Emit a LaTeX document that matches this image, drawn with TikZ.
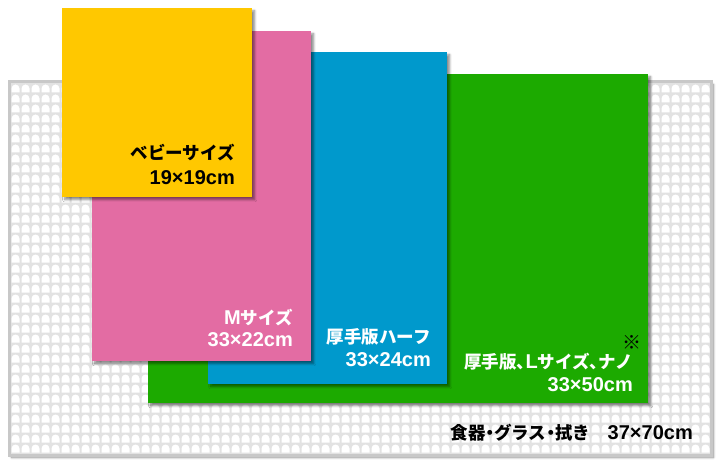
\documentclass[tikz,border=0pt]{standalone}
\usepackage{fontspec}
\setmainfont{Noto Sans CJK JP}
\newfontfamily\latinfont{Liberation Sans}
\newfontfamily\halffont{Noto Sans CJK JP}[RawFeature=+halt]
\usetikzlibrary{shadows.blur}
\definecolor{babyYellow}{RGB}{255,200,0}
\definecolor{mPink}{RGB}{227,108,163}
\definecolor{halfBlue}{RGB}{0,153,204}
\definecolor{largeGreen}{RGB}{28,170,0}
\definecolor{matGray}{RGB}{200,200,200}
\definecolor{cellGray}{RGB}{226,226,226}
\newcommand{\lat}[1]{{\latinfont\bfseries\fontsize{20}{22}\selectfont #1}}

\begin{document}
\begin{tikzpicture}[x=1pt, y=-1pt,
  card/.style={rectangle, fill=#1, draw=none, anchor=north west,
               inner sep=0pt,
               blur shadow={shadow xshift=2.5pt, shadow yshift=-2.5pt,
                            shadow blur steps=6, shadow opacity=45}},
  lbl/.style={anchor=base east, inner sep=0pt, text=#1,
              font=\bfseries\fontsize{17.5}{19}\selectfont}
]
  \useasboundingbox (0,0) rectangle (722,465);

  % waffle mat
  \node[card=cellGray, draw=matGray, line width=3pt,
        minimum width=702pt, minimum height=373pt] (mat) at (7.5,80.5) {};
  \foreach \i in {0,...,69}
    \foreach \j in {0,...,36}
      \fill[white] (11.5+\i*10, 92.5+\j*10)
        [rounded corners=4pt] -- (11.5+\i*10, 84.5+\j*10)
        -- (19.5+\i*10, 84.5+\j*10) [sharp corners] -- (19.5+\i*10, 92.5+\j*10)
        -- cycle;

  % cloths, largest first
  \node[card=largeGreen, minimum width=500pt, minimum height=329pt]
    (large) at (148,74) {};
  \node[card=halfBlue, minimum width=239pt, minimum height=332pt]
    (half) at (208,52) {};
  \node[card=mPink, minimum width=219pt, minimum height=330pt]
    (msize) at (92,31) {};
  \node[card=babyYellow, minimum width=190pt, minimum height=189pt]
    (baby) at (62,8) {};

  \node[lbl=black] (babyName) at (235,160) {ベビーサイズ};
  \node[lbl=black] (babyDim) at (235,184) {\lat{19×19cm}};
  \node[lbl=white] (msizeName) at (293,324) {\lat{M}サイズ};
  \node[lbl=white] (msizeDim) at (293,346) {\lat{33×22cm}};
  \node[lbl=white] (halfName) at (431,343) {厚手版ハーフ};
  \node[lbl=white] (halfDim) at (431,366) {\lat{33×24cm}};
  \node[lbl=white] (largeName) at (633,368)
    {{\halffont 厚手版、}\lat{L}{\halffont サイズ、}ナノ};
  \node[lbl=white] (largeDim) at (633,391) {\lat{33×50cm}};
  \node[text=black, inner sep=0pt, font=\fontsize{19}{20}\selectfont]
    (largeNote) at (632,342) {※};
  \node[lbl=black, font=\bfseries\fontsize{17.5}{19}\selectfont]
    (matName) at (693,439) {{\halffont 食器・グラス・拭き}　\lat{37×70cm}};
\end{tikzpicture}
\end{document}
